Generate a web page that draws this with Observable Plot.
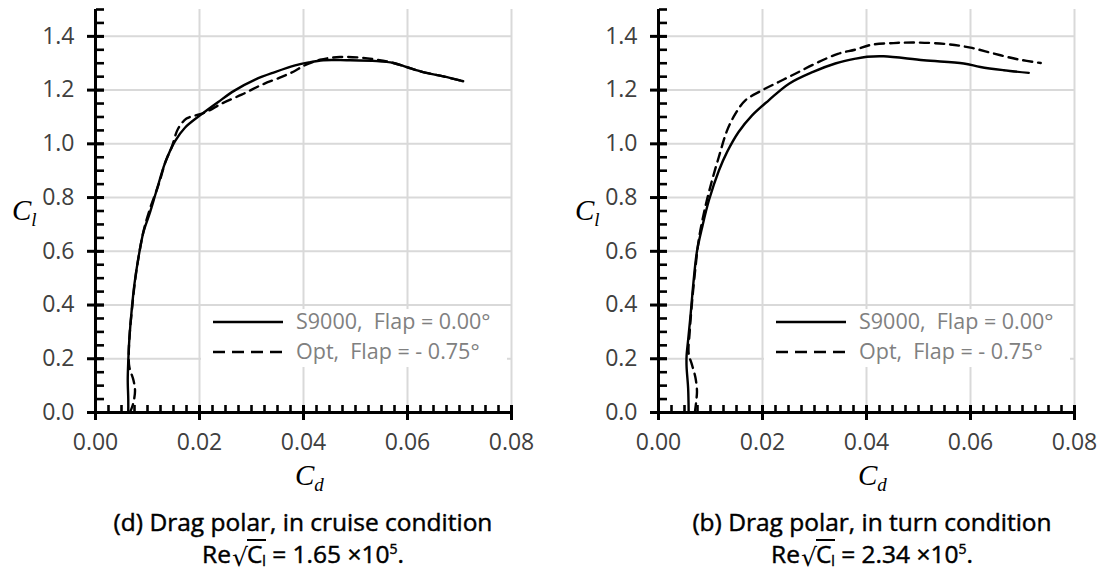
<!DOCTYPE html>
<html><head><meta charset="utf-8">
<script src="https://cdn.jsdelivr.net/npm/d3@7"></script>
<script src="https://cdn.jsdelivr.net/npm/@observablehq/plot@0.6"></script>
<style>
body{margin:0;background:#fff;}
#wrap{position:relative;width:1103px;height:572px;overflow:hidden;font-family:"Open Sans",sans-serif;}
.panel{position:absolute;top:0;}
.lab{position:absolute;font-family:"Liberation Serif",serif;font-style:italic;font-size:29px;color:#000;line-height:1;white-space:nowrap;}
.lab sub{font-size:19px;vertical-align:-0.3em;}
.legend{position:absolute;background:#fff;height:58px;}
.legline{position:absolute;}
.legtxt{position:absolute;white-space:pre;color:#808080;font-size:21.5px;line-height:1;}
.cap{position:absolute;width:520px;text-align:center;font-size:24.5px;font-weight:normal;color:#000;white-space:nowrap;line-height:1.1;-webkit-text-stroke:0.45px #000;}
.rad{font-family:"DejaVu Sans",sans-serif;font-size:25px;display:inline-block;line-height:1;vertical-align:-3px;margin-left:1px;-webkit-text-stroke:0;}
.ov{display:inline-block;line-height:1;border-top:2px solid #000;padding-top:1px;margin-left:-1px;}
.cap sub{font-size:14px;vertical-align:-0.2em;line-height:0;}
.cap sup{font-size:14px;vertical-align:0.65em;line-height:0;}
</style></head>
<body><div id="wrap"></div>
<script>
// Tick values
const xMajor = [0, 0.02, 0.04, 0.06, 0.08];
const yMajor = [0, 0.2, 0.4, 0.6, 0.8, 1.0, 1.2, 1.4];
const xGrid = [0.02, 0.04, 0.06, 0.08];
const yGrid = [0.2, 0.4, 0.6, 0.8, 1.0, 1.2, 1.4];
const xMinor = d3.range(0, 0.08001, 0.0025);
const yMinor = d3.range(0, 1.5001, 0.05);

// (d) cruise condition
const cruiseS9000Cd = [0.0063,0.0063,0.0062,0.0063,0.0065,0.0070,0.0075,0.0082,0.0092,0.0104,0.0118,0.0134,0.0153,0.0172,0.0201,0.0236,0.0268,0.0307,0.0345,0.0384,0.0410,0.0438,0.0483,0.0541,0.0573,0.0598,0.0630,0.0669,0.0707];
const cruiseS9000Cl = [0.00,0.05,0.12,0.19,0.27,0.39,0.48,0.57,0.67,0.74,0.83,0.93,1.01,1.06,1.106,1.156,1.199,1.239,1.267,1.292,1.303,1.311,1.311,1.308,1.301,1.286,1.267,1.251,1.233];
const cruiseOptCd = [0.0066,0.0072,0.0076,0.0073,0.0065,0.0064,0.0066,0.0071,0.0076,0.0083,0.0093,0.0105,0.0118,0.0124,0.0134,0.0147,0.0159,0.0175,0.0193,0.0212,0.0243,0.0281,0.0320,0.0358,0.0384,0.0400,0.0432,0.0470,0.0509,0.0541,0.0573,0.0598,0.0630,0.0669,0.0707];
const cruiseOptCl = [0.00,0.03,0.08,0.12,0.17,0.22,0.30,0.40,0.49,0.58,0.68,0.76,0.83,0.864,0.93,0.99,1.057,1.094,1.106,1.118,1.150,1.183,1.220,1.249,1.272,1.290,1.313,1.323,1.321,1.313,1.301,1.286,1.267,1.251,1.233];

// (b) turn condition
const turnS9000Cd = [0.0058,0.0057,0.0054,0.0054,0.0057,0.0062,0.0067,0.0074,0.0084,0.0097,0.0116,0.0132,0.0154,0.0180,0.0212,0.0251,0.0296,0.0340,0.0379,0.0401,0.0433,0.0510,0.0587,0.0619,0.0664,0.0712];
const turnS9000Cl = [0.00,0.09,0.17,0.21,0.27,0.37,0.48,0.60,0.69,0.79,0.90,0.97,1.044,1.106,1.162,1.224,1.267,1.299,1.317,1.324,1.326,1.311,1.299,1.286,1.274,1.264];
const turnOptCd = [0.0070,0.0073,0.0074,0.0071,0.0064,0.0058,0.0060,0.0064,0.0070,0.0078,0.0090,0.0103,0.0116,0.0132,0.0148,0.0167,0.0199,0.0231,0.0263,0.0302,0.0345,0.0379,0.0408,0.0452,0.0497,0.0555,0.0600,0.0645,0.0690,0.0735];
const turnOptCl = [0.00,0.05,0.08,0.13,0.18,0.22,0.30,0.40,0.52,0.65,0.765,0.864,0.951,1.050,1.112,1.162,1.199,1.230,1.261,1.299,1.335,1.351,1.368,1.375,1.377,1.371,1.358,1.336,1.315,1.301];

const seriesNames = ["S9000,  Flap = 0.00°", "Opt,  Flap = - 0.75°"];
const captions = [
  ["(d) Drag polar, in cruise condition", "1.65"],
  ["(b) Drag polar, in turn condition", "2.34"]
];

const zip = (cd, cl) => cd.map((v, i) => ({cd: v, cl: cl[i]}));

function makePlot(solid, dashed, width, ml, mr) {
  const ink = "#000";
  const H = 460, mt = 9, mb = 48;
  const xDom = [0, 0.08], yDom = [0, 1.5];
  const tickOnly = {label: null, fill: "none", stroke: ink};
  return Plot.plot({
    width, height: H,
    marginLeft: ml, marginRight: mr, marginTop: mt, marginBottom: mb,
    style: {fontFamily: '"Open Sans", sans-serif', fontSize: "23px", color: ink, background: "transparent", overflow: "visible"},
    x: {domain: xDom, axis: null},
    y: {domain: yDom, axis: null},
    marks: [
      Plot.ruleX(xGrid, {stroke: "#d9d9d9", strokeWidth: 2}),
      Plot.ruleY(yGrid, {stroke: "#d9d9d9", strokeWidth: 2}),
      Plot.line(solid, {x: "cd", y: "cl", stroke: ink, strokeWidth: 2.4, curve: "catmull-rom"}),
      Plot.line(dashed, {x: "cd", y: "cl", stroke: ink, strokeWidth: 2.4, strokeDasharray: "9,6", curve: "catmull-rom"}),
      Plot.ruleY([0], {stroke: ink, strokeWidth: 3}),
      Plot.ruleX([0], {stroke: ink, strokeWidth: 3}),
      // minor ticks: pointing inward
      Plot.axisX(xMinor, {...tickOnly, anchor: "top", frameAnchor: "bottom", facetAnchor: null, tickSize: 8, strokeWidth: 2.6}),
      Plot.axisY(yMinor, {...tickOnly, anchor: "right", frameAnchor: "left", facetAnchor: null, tickSize: 8, strokeWidth: 2.6}),
      // major ticks: crossing the axis
      Plot.axisX(xMajor, {...tickOnly, anchor: "top", frameAnchor: "bottom", facetAnchor: null, tickSize: 8, strokeWidth: 3}),
      Plot.axisX(xMajor, {...tickOnly, anchor: "bottom", tickSize: 8, strokeWidth: 3}),
      Plot.axisY(yMajor, {...tickOnly, anchor: "right", frameAnchor: "left", facetAnchor: null, tickSize: 8, strokeWidth: 3}),
      Plot.axisY(yMajor, {...tickOnly, anchor: "left", tickSize: 8, strokeWidth: 3}),
      // tick labels
      Plot.axisX({ticks: xMajor, tickSize: 0, tickPadding: 21, tickFormat: d3.format(".2f"), fill: "#404040", label: null}),
      Plot.axisY({ticks: yMajor, tickSize: 0, tickPadding: 21, tickFormat: d3.format(".1f"), fill: "#404040", label: null})
    ]
  });
}

const wrap = document.getElementById("wrap");
const panels = [
  {solid: zip(cruiseS9000Cd, cruiseS9000Cl), dashed: zip(cruiseOptCd, cruiseOptCl), left: 0, width: 551, ml: 95, mr: 40, capShift: 0},
  {solid: zip(turnS9000Cd, turnS9000Cl), dashed: zip(turnOptCd, turnOptCl), left: 551, width: 552, ml: 107, mr: 29, capShift: 6}
];

panels.forEach((p, k) => {
  const div = document.createElement("div");
  div.className = "panel";
  div.style.left = p.left + "px";
  div.appendChild(makePlot(p.solid, p.dashed, p.width, p.ml, p.mr));
  wrap.appendChild(div);

  const x0 = p.left + p.ml;           // page x of Cd = 0
  const x1 = p.left + p.width - p.mr; // page x of Cd = 0.08
  const cx = (x0 + x1) / 2;

  // legend
  const leg = document.createElement("div");
  leg.className = "legend";
  leg.style.left = (x0 + 106) + "px";
  leg.style.top = "309px";
  leg.style.width = (x1 - x0 - 110) + "px";
  seriesNames.forEach((name, i) => {
    const yc = 13 + i * 30;
    const svg = document.createElementNS("http://www.w3.org/2000/svg", "svg");
    svg.setAttribute("width", 70); svg.setAttribute("height", 6);
    svg.setAttribute("class", "legline");
    svg.style.left = "12px"; svg.style.top = (yc - 3) + "px";
    const ln = document.createElementNS("http://www.w3.org/2000/svg", "line");
    ln.setAttribute("x1", 0); ln.setAttribute("x2", 70); ln.setAttribute("y1", 3); ln.setAttribute("y2", 3);
    ln.setAttribute("stroke", "#000"); ln.setAttribute("stroke-width", 2.6);
    if (i === 1) ln.setAttribute("stroke-dasharray", "12,7");
    svg.appendChild(ln);
    leg.appendChild(svg);
    const t = document.createElement("div");
    t.className = "legtxt";
    t.textContent = name;
    t.style.left = "95px";
    t.style.top = (yc - 12) + "px";
    leg.appendChild(t);
  });
  wrap.appendChild(leg);

  // axis labels
  const cl = document.createElement("div");
  cl.className = "lab";
  cl.innerHTML = "C<sub>l</sub>";
  cl.style.left = (x0 - 83) + "px";
  cl.style.top = "196px";
  wrap.appendChild(cl);
  const cd = document.createElement("div");
  cd.className = "lab";
  cd.innerHTML = "C<sub>d</sub>";
  cd.style.left = (cx - 8) + "px";
  cd.style.top = "461px";
  wrap.appendChild(cd);

  // caption
  const c1 = document.createElement("div");
  c1.className = "cap";
  c1.textContent = captions[k][0];
  c1.style.left = (cx + p.capShift - 260) + "px";
  c1.style.top = "509px";
  wrap.appendChild(c1);
  const c2 = document.createElement("div");
  c2.className = "cap";
  c2.innerHTML = 'Re<span class="rad">√</span><span class="ov">C<sub>l</sub></span> = ' + captions[k][1] + ' ×10<sup>5</sup>.';
  c2.style.left = (cx + p.capShift - 260) + "px";
  c2.style.top = "539px";
  wrap.appendChild(c2);
});
</script>
</body></html>
